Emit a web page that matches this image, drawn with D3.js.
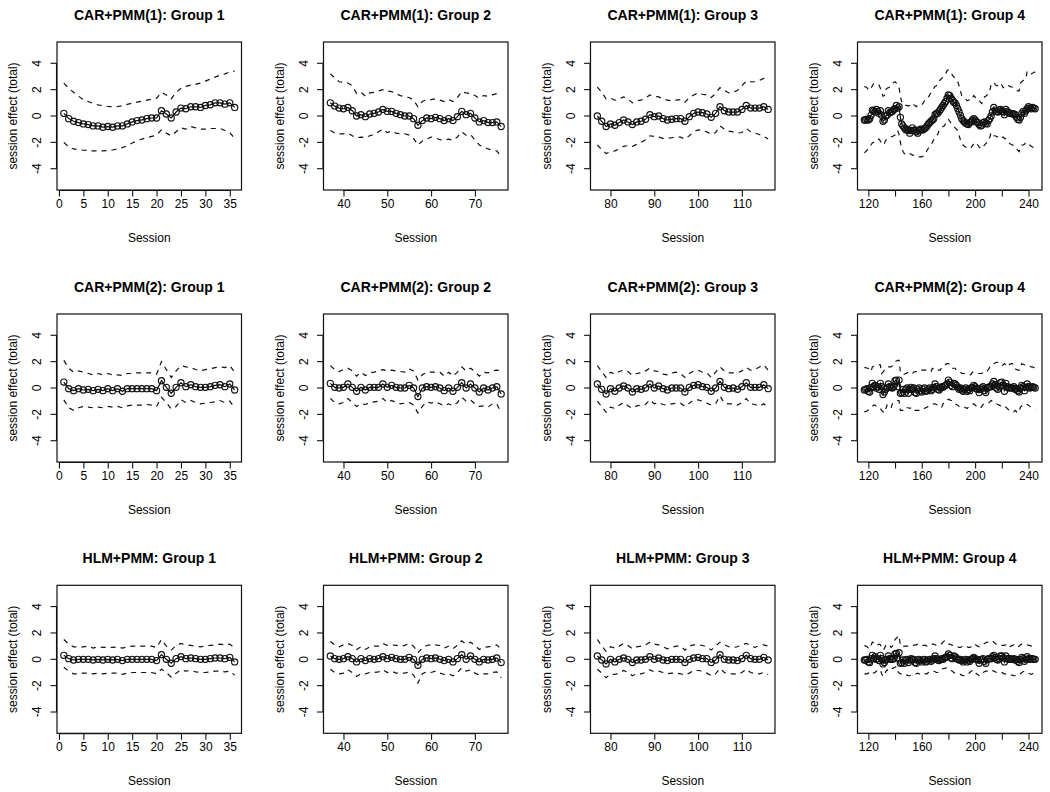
<!DOCTYPE html>
<html><head><meta charset="utf-8">
<script src="https://cdn.jsdelivr.net/npm/d3@7"></script>
<style>
html,body{margin:0;padding:0;background:#fff;}
svg text{font-family:"Liberation Sans",Arial,Helvetica,sans-serif;fill:#000;}
</style></head>
<body>
<svg id="chart" width="1050" height="792"></svg>
<script>
// ---------- labels ----------
const modelNames = ["CAR+PMM(1)", "CAR+PMM(2)", "HLM+PMM"];
const groupNames = ["Group 1", "Group 2", "Group 3", "Group 4"];
const groupFirstSession = [1, 37, 77, 117];
const yTicks = [-4, -2, 0, 2, 4];
const yLimits = [-5.2, 5.2];
const xTicksG1 = [0, 5, 10, 15, 20, 25, 30, 35];
const xTicksG2 = [40, 50, 60, 70];
const xTicksG3 = [80, 90, 100, 110];
const xTicksG4 = [120, 140, 160, 180, 200, 220, 240];
const xLabelsG4 = [120, 160, 200, 240];
const xTitle = "Session";
const yTitle = "session effect (total)";

// ---------- CAR+PMM(1) ----------
const car1_g1_est = [0.2,-0.2,-0.4,-0.5,-0.6,-0.65,-0.75,-0.75,-0.85,-0.8, -0.85,-0.75,-0.75,-0.6,-0.45,-0.35,-0.3,-0.2,-0.15,-0.15, 0.4,0.15,-0.15,0.3,0.6,0.55,0.7,0.7,0.65,0.8, 0.85,1.0,1.0,0.9,1.0,0.65];
const car1_g1_upr = [2.5,2.1,1.8,1.5,1.25,1.1,0.95,0.85,0.78,0.72, 0.7,0.72,0.78,0.88,0.98,1.05,1.12,1.2,1.28,1.35, 1.8,1.6,1.3,1.8,2.1,2.25,2.35,2.4,2.5,2.65, 2.8,2.95,3.1,3.2,3.35,3.4];
const car1_g1_lwr = [-2.0,-2.35,-2.5,-2.55,-2.6,-2.62,-2.65,-2.65,-2.65,-2.62, -2.58,-2.5,-2.4,-2.25,-2.05,-1.9,-1.75,-1.65,-1.55,-1.45, -1.05,-1.3,-1.5,-1.2,-0.9,-1.0,-0.8,-0.9,-1.0,-1.0, -0.95,-0.95,-0.95,-1.1,-1.25,-1.7];

const car1_g2_est = [1.0,0.75,0.6,0.55,0.65,0.4,0.0,0.1,-0.05,0.15, 0.2,0.3,0.5,0.35,0.35,0.2,0.1,0.0,0.0,-0.2, -0.7,-0.35,-0.15,-0.2,-0.1,-0.2,-0.35,-0.2,-0.35,-0.05, 0.35,0.1,0.2,-0.15,-0.45,-0.35,-0.5,-0.5,-0.45,-0.8];
const car1_g2_upr = [3.2,2.9,2.6,2.55,2.5,2.3,1.7,1.8,1.5,1.75, 1.8,1.9,2.0,1.9,1.85,1.7,1.55,1.45,1.4,1.2, 0.7,1.1,1.25,1.25,1.3,1.2,1.1,1.25,1.1,1.4, 1.85,1.75,1.7,1.55,1.35,1.55,1.5,1.6,1.7,1.7];
const car1_g2_lwr = [-1.1,-1.3,-1.35,-1.35,-1.3,-1.5,-1.65,-1.6,-1.65,-1.5, -1.4,-1.2,-1.0,-1.25,-1.15,-1.3,-1.35,-1.35,-1.45,-1.7, -2.2,-1.9,-1.75,-1.6,-1.65,-1.8,-1.85,-1.75,-1.85,-1.6, -1.2,-1.45,-1.4,-1.8,-2.2,-2.35,-2.5,-2.6,-2.65,-3.1];

const car1_g3_est = [0.0,-0.4,-0.8,-0.6,-0.7,-0.5,-0.3,-0.45,-0.65,-0.45, -0.4,-0.25,0.1,-0.05,0.0,-0.2,-0.3,-0.25,-0.2,-0.2, -0.4,-0.05,0.2,0.3,0.25,0.15,-0.1,0.2,0.7,0.4, 0.3,0.3,0.3,0.5,0.8,0.6,0.6,0.6,0.7,0.5];
const car1_g3_upr = [2.2,1.8,1.3,1.35,1.2,1.3,1.45,1.3,1.0,1.15, 1.2,1.35,1.6,1.5,1.45,1.3,1.2,1.15,1.2,1.25, 1.05,1.4,1.6,1.75,1.65,1.6,1.4,1.7,2.15,1.95, 1.75,1.8,1.95,2.3,2.65,2.6,2.6,2.7,2.85,2.9];
const car1_g3_lwr = [-2.2,-2.55,-2.85,-2.7,-2.65,-2.5,-2.3,-2.25,-2.3,-2.15, -2.0,-1.8,-1.5,-1.55,-1.6,-1.7,-1.7,-1.65,-1.6,-1.6, -1.75,-1.5,-1.2,-1.05,-1.1,-1.2,-1.4,-1.25,-0.75,-1.0, -1.15,-1.2,-1.3,-1.25,-0.95,-1.2,-1.3,-1.4,-1.55,-1.75];

const car1_g4_est = [-0.3,-0.3,-0.25,-0.3,-0.2,0.05,0.45,0.4,0.3,0.5,
 0.35,0.2,0.4,0.05,-0.4,-0.3,0.0,0.05,0.4,0.25,
 0.3,0.35,0.5,0.55,0.8,0.6,0.7,-0.1,-0.6,-0.75,
 -0.9,-1.05,-1.0,-1.1,-1.3,-1.1,-0.9,-1.1,-1.05,-1.2,
 -1.3,-1.1,-1.0,-1.05,-1.05,-0.95,-0.9,-0.75,-0.6,-0.5,
 -0.4,-0.3,-0.2,0.1,0.2,0.2,0.35,0.5,0.65,0.8,
 0.95,1.1,1.35,1.6,1.55,1.35,1.2,1.05,1.0,0.8,
 0.55,0.3,0.05,-0.2,-0.35,-0.45,-0.55,-0.6,-0.65,-0.5,
 -0.45,-0.3,-0.2,-0.3,-0.45,-0.5,-0.65,-0.75,-0.7,-0.5,
 -0.45,-0.55,-0.6,-0.35,-0.2,0.0,0.3,0.65,0.45,0.35,
 0.3,0.45,0.5,0.35,0.3,0.1,0.5,0.35,0.25,0.2,
 0.2,0.15,0.15,0.1,-0.1,-0.25,-0.3,-0.1,0.2,0.35,
 0.2,0.4,0.55,0.7,0.6,0.55,0.65,0.6,0.55];
const car1_g4_upr = [2.25,2.2,2.15,2.0,1.95,2.1,2.3,2.45,2.5,2.45,
 2.4,2.35,2.1,1.85,1.5,1.55,2.0,2.1,2.15,2.2,
 2.4,2.45,2.55,2.6,2.5,2.35,2.2,1.45,1.1,0.85,
 0.85,0.8,0.8,0.75,0.8,0.7,0.75,0.85,0.8,0.7,
 0.8,0.85,0.8,0.85,0.95,1.15,1.2,1.3,1.45,1.6,
 1.8,2.0,2.1,2.25,2.3,2.45,2.65,2.75,2.85,2.95,
 3.0,3.2,3.45,3.5,3.4,3.3,3.1,2.95,2.9,2.7,
 2.6,2.3,1.9,1.55,1.45,1.35,1.3,1.15,1.2,1.25,
 1.2,1.35,1.55,1.45,1.3,1.2,1.2,1.05,0.95,1.15,
 1.45,1.5,1.6,1.7,1.9,2.4,2.45,2.55,2.4,2.3,
 2.3,2.4,2.5,2.35,2.15,2.2,2.25,2.2,2.3,2.25,
 2.2,2.2,2.1,2.05,1.95,1.9,1.9,2.5,2.6,2.7,
 2.75,2.8,3.4,3.35,3.3,3.2,3.25,3.3,3.35];
const car1_g4_lwr = [-2.8,-2.7,-2.6,-2.4,-2.3,-2.2,-2.05,-2.0,-1.85,-1.85,
 -1.8,-1.75,-1.9,-2.1,-2.2,-2.1,-1.85,-1.8,-1.75,-1.7,
 -1.6,-1.55,-1.5,-1.45,-1.3,-1.1,-1.4,-2.0,-2.45,-2.7,
 -2.85,-2.95,-2.9,-2.85,-2.85,-2.9,-2.95,-3.0,-3.05,-3.1,
 -3.1,-3.1,-3.1,-3.1,-3.05,-3.0,-2.85,-2.6,-2.45,-2.3,
 -2.15,-2.0,-1.8,-1.6,-1.5,-1.4,-1.1,-1.0,-0.9,-0.8,
 -0.75,-0.55,-0.3,-0.25,-0.4,-0.55,-0.65,-0.8,-0.9,-1.0,
 -1.1,-1.5,-1.8,-2.1,-2.2,-2.3,-2.35,-2.45,-2.5,-2.45,
 -2.4,-2.25,-2.1,-2.0,-2.05,-2.2,-2.35,-2.45,-2.5,-2.4,
 -2.2,-2.1,-2.0,-1.9,-1.6,-1.25,-1.35,-1.5,-1.5,-1.55,
 -1.6,-1.7,-1.75,-1.65,-1.6,-1.7,-1.75,-1.85,-2.0,-2.1,
 -2.15,-2.2,-2.3,-2.35,-2.5,-2.6,-2.7,-2.4,-2.2,-2.2,
 -2.15,-2.0,-2.05,-2.1,-2.2,-2.3,-2.35,-2.4,-2.45];

// ---------- CAR+PMM(2) ----------
const car2_g1_est = [0.45,-0.05,-0.2,-0.05,-0.15,-0.1,-0.2,-0.1,-0.2,-0.05, -0.2,-0.05,-0.25,-0.05,-0.05,-0.05,-0.05,-0.05,-0.05,-0.2, 0.55,0.05,-0.4,0.05,0.4,0.1,0.25,0.1,0.05,0.05, 0.1,0.2,0.25,0.1,0.3,-0.15];
const car2_g1_upr = [2.1,1.5,1.2,1.3,1.2,1.1,1.0,1.1,1.0,1.1, 1.0,1.0,0.95,1.1,1.1,1.15,1.15,1.15,1.15,1.05, 2.0,1.4,0.8,1.3,1.7,1.6,1.55,1.4,1.3,1.4, 1.45,1.55,1.6,1.55,1.7,1.2];
const car2_g1_lwr = [-0.9,-1.5,-1.7,-1.5,-1.4,-1.45,-1.5,-1.45,-1.5,-1.4, -1.45,-1.4,-1.5,-1.35,-1.3,-1.3,-1.3,-1.25,-1.3,-1.4, -0.7,-1.1,-1.6,-1.4,-0.9,-1.1,-0.95,-1.1,-1.2,-1.15, -1.1,-1.05,-0.95,-1.1,-1.0,-1.5];

const car2_g2_est = [0.35,0.05,0.0,0.05,0.3,0.05,-0.25,0.05,-0.15,0.05, 0.05,0.05,0.3,0.05,0.2,0.05,0.0,0.0,0.2,0.0, -0.65,0.0,0.1,0.05,0.1,0.0,-0.2,0.0,-0.25,0.05, 0.4,0.0,0.3,0.0,-0.3,0.0,-0.15,0.0,0.1,-0.45];
const car2_g2_upr = [1.7,1.4,1.25,1.4,1.5,1.3,0.9,1.2,0.95,1.15, 1.2,1.3,1.4,1.3,1.35,1.3,1.25,1.2,1.45,1.3, 0.6,1.0,1.2,1.2,1.2,1.2,0.9,1.2,0.9,1.2, 1.6,1.3,1.5,1.25,0.9,1.2,1.15,1.3,1.35,1.3];
const car2_g2_lwr = [-0.8,-1.1,-1.2,-1.1,-0.8,-1.1,-1.4,-1.2,-1.25,-1.1, -1.05,-1.0,-0.8,-1.1,-0.95,-1.1,-1.2,-1.15,-1.1,-1.3, -1.9,-1.4,-1.05,-1.15,-1.05,-1.2,-1.35,-1.2,-1.35,-1.1, -0.7,-1.0,-0.9,-1.2,-1.4,-1.35,-1.45,-1.2,-1.2,-1.9];

const car2_g3_est = [0.3,-0.1,-0.45,-0.05,-0.25,0.0,0.15,0.0,-0.3,-0.05, -0.1,0.0,0.3,0.0,0.15,-0.05,-0.15,0.0,0.0,0.0, -0.3,0.05,0.2,0.25,0.1,0.05,-0.25,0.0,0.5,0.05, -0.05,0.0,-0.1,0.1,0.4,0.05,0.05,0.05,0.25,-0.05];
const car2_g3_upr = [1.7,1.25,0.8,1.2,1.05,1.25,1.35,1.25,0.95,1.1, 1.15,1.3,1.5,1.3,1.25,1.05,1.0,1.15,1.2,1.1, 0.8,1.1,1.3,1.35,1.2,1.15,0.8,1.2,1.6,1.3, 1.15,1.15,1.15,1.3,1.55,1.35,1.4,1.6,1.75,1.35];
const car2_g3_lwr = [-1.0,-1.4,-1.85,-1.45,-1.55,-1.3,-1.1,-1.35,-1.55,-1.35, -1.3,-1.25,-0.9,-1.2,-1.1,-1.25,-1.3,-1.2,-1.15,-1.15, -1.4,-1.15,-0.9,-0.9,-1.0,-1.15,-1.3,-1.2,-0.6,-1.15, -1.2,-1.2,-1.3,-1.1,-0.8,-1.2,-1.25,-1.4,-1.2,-1.5];

const car2_g4_est = [-0.15,-0.1,-0.05,-0.25,-0.3,0.05,0.35,0.1,0.2,0.0,
 0.1,-0.1,0.35,0.1,-0.5,-0.3,-0.1,0.0,0.3,0.1,
 0.05,0.0,0.1,0.55,0.6,0.1,0.6,-0.4,-0.35,-0.1,
 -0.4,-0.1,0.0,-0.4,-0.1,0.05,-0.1,0.0,-0.35,-0.4,
 -0.1,0.0,-0.2,-0.3,-0.1,0.0,-0.25,-0.2,-0.1,0.0,
 -0.2,-0.1,0.05,0.3,0.1,-0.1,-0.15,0.0,0.1,0.05,
 0.15,0.2,0.3,0.6,0.45,0.2,0.1,0.35,0.3,0.2,
 0.05,-0.1,0.0,-0.15,-0.25,-0.1,0.0,-0.25,-0.1,-0.2,
 0.0,0.05,0.2,0.1,-0.05,-0.1,-0.35,-0.1,0.0,0.1,
 -0.2,-0.35,0.0,0.05,0.1,0.1,0.3,0.5,0.25,0.0,
 -0.1,0.1,0.4,0.45,0.2,-0.25,0.35,0.1,0.0,0.05,
 0.0,0.0,0.1,-0.1,-0.05,-0.2,-0.3,0.0,0.2,0.1,
 -0.2,0.05,0.3,0.1,0.0,0.05,0.1,0.05,0.0];
const car2_g4_upr = [1.55,1.55,1.5,1.5,1.4,1.25,1.6,1.65,1.7,1.7,
 1.75,1.75,1.75,1.1,1.2,1.35,1.5,1.6,1.6,1.6,
 1.6,1.7,1.85,2.0,2.05,2.1,2.1,1.25,1.1,1.0,
 1.05,1.1,1.15,1.2,1.2,1.1,1.1,1.2,1.25,1.25,
 1.25,1.25,1.25,1.35,1.35,1.35,1.35,1.35,1.3,1.25,
 1.25,1.5,1.45,1.35,1.3,1.35,1.35,1.35,1.6,1.65,
 1.7,1.8,1.85,1.85,1.8,1.6,1.5,1.5,1.5,1.35,
 1.25,1.25,1.2,1.1,1.1,1.1,1.05,1.0,1.0,1.0,
 1.05,1.2,1.2,1.2,1.15,1.1,1.1,1.1,1.1,1.2,
 1.3,1.3,1.3,1.4,1.6,1.75,1.8,1.85,1.9,1.95,
 1.95,1.85,1.75,1.7,1.75,1.85,1.75,1.6,1.7,1.8,
 1.85,1.85,1.7,1.45,1.4,1.35,1.35,1.6,1.85,1.8,
 1.75,1.75,1.7,1.7,1.65,1.6,1.6,1.55,1.5];
const car2_g4_lwr = [-1.8,-1.8,-1.75,-1.65,-1.55,-1.45,-1.4,-1.3,-1.3,-1.4,
 -1.45,-1.45,-1.55,-1.7,-1.8,-1.9,-1.6,-1.3,-1.4,-1.5,
 -1.55,-1.2,-1.15,-1.1,-1.0,-0.95,-0.95,-1.7,-1.7,-1.7,
 -1.65,-1.45,-1.5,-1.5,-1.55,-1.5,-1.45,-1.55,-1.7,-1.7,
 -1.7,-1.7,-1.7,-1.6,-1.55,-1.55,-1.5,-1.45,-1.4,-1.35,
 -1.3,-1.25,-1.2,-1.2,-1.25,-1.3,-1.45,-1.45,-1.45,-1.2,
 -1.05,-0.95,-0.9,-0.85,-0.9,-0.95,-0.95,-1.05,-1.2,-1.25,
 -1.3,-1.4,-1.45,-1.45,-1.45,-1.45,-1.5,-1.55,-1.45,-1.35,
 -1.3,-1.25,-1.2,-1.3,-1.4,-1.45,-1.5,-1.55,-1.4,-1.25,
 -1.2,-1.2,-1.2,-1.15,-1.05,-0.95,-1.0,-1.1,-1.15,-1.2,
 -1.25,-1.3,-1.35,-1.3,-1.35,-1.45,-1.45,-1.55,-1.65,-1.75,
 -1.8,-1.8,-1.8,-1.7,-1.8,-1.9,-1.75,-1.45,-1.35,-1.3,
 -1.3,-1.2,-1.25,-1.3,-1.4,-1.5,-1.55,-1.55,-1.6];

// ---------- HLM+PMM ----------
const hlm_g1_est = [0.3,0.05,-0.05,0.0,0.0,0.0,-0.05,0.0,-0.05,0.0, -0.05,0.0,-0.1,0.0,0.0,0.0,0.0,0.0,0.0,-0.1, 0.35,0.0,-0.3,0.05,0.2,0.05,0.1,0.05,0.0,0.0, 0.05,0.1,0.1,0.05,0.15,-0.2];
const hlm_g1_upr = [1.5,1.15,0.95,0.95,0.95,1.0,0.85,0.95,0.9,0.9, 0.9,0.95,0.85,0.95,1.0,1.0,1.0,1.0,1.0,0.9, 1.5,1.0,0.7,1.05,1.2,1.1,1.05,1.0,0.95,1.0, 1.05,1.1,1.15,1.1,1.15,0.85];
const hlm_g1_lwr = [-0.6,-0.9,-1.1,-1.1,-1.05,-1.05,-1.1,-1.05,-1.1,-1.05, -1.05,-1.05,-1.15,-1.05,-1.0,-1.0,-1.0,-1.0,-1.0,-1.1, -0.75,-1.0,-1.35,-1.05,-0.8,-0.9,-0.85,-0.95,-1.0,-1.0, -0.95,-0.9,-0.9,-0.95,-0.9,-1.2];

const hlm_g2_est = [0.25,0.05,0.0,0.05,0.2,0.05,-0.2,0.05,-0.1,0.05, 0.0,0.05,0.2,0.05,0.15,0.05,0.0,0.0,0.15,0.0, -0.45,0.0,0.1,0.05,0.1,0.0,-0.1,0.0,-0.2,0.05, 0.35,0.0,0.25,0.0,-0.2,0.0,-0.05,0.0,0.1,-0.25];
const hlm_g2_upr = [1.35,1.1,0.95,1.1,1.2,1.05,0.75,0.95,0.75,0.95, 1.0,1.0,1.2,1.05,1.1,1.05,1.0,1.05,1.2,1.0, 0.5,0.85,1.05,1.1,1.1,1.05,0.85,1.0,0.8,1.05, 1.4,1.15,1.3,1.05,0.75,0.9,0.95,1.0,1.1,0.75];
const hlm_g2_lwr = [-0.75,-1.0,-1.1,-1.05,-0.8,-1.0,-1.3,-1.1,-1.1,-1.0, -1.0,-0.95,-0.8,-1.0,-0.9,-1.05,-1.05,-1.05,-0.95,-1.2, -1.8,-1.1,-0.95,-1.0,-0.9,-1.05,-1.15,-1.1,-1.25,-1.0, -0.65,-0.9,-0.8,-1.05,-1.2,-1.1,-1.1,-1.0,-0.95,-1.4];

const hlm_g3_est = [0.25,-0.05,-0.35,0.0,-0.2,0.0,0.1,0.0,-0.25,-0.05, -0.05,0.0,0.2,0.0,0.1,-0.05,-0.1,0.0,0.0,0.0, -0.25,0.0,0.1,0.15,0.05,0.05,-0.25,-0.05,0.35,0.0, -0.05,-0.05,-0.1,0.05,0.3,0.05,0.0,0.0,0.15,-0.05];
const hlm_g3_upr = [1.5,1.0,0.6,0.95,0.85,1.0,1.2,1.05,0.8,0.95, 1.0,1.1,1.3,1.15,1.1,0.95,0.8,0.9,1.0,1.0, 0.7,1.0,1.1,1.1,1.05,0.95,0.7,1.0,1.3,1.1, 0.95,0.9,0.95,1.1,1.2,1.05,0.9,1.05,1.1,1.0];
const hlm_g3_lwr = [-0.75,-1.05,-1.4,-1.15,-1.15,-1.05,-0.85,-1.0,-1.25,-1.1, -1.1,-1.0,-0.8,-0.95,-0.9,-1.0,-1.1,-1.05,-1.05,-1.1, -1.2,-1.05,-0.85,-0.85,-0.9,-1.05,-1.25,-1.1,-0.7,-1.0, -1.1,-1.1,-1.15,-1.0,-0.75,-1.0,-1.1,-1.1,-1.0,-1.15];

const hlm_g4_est = [-0.05,-0.05,0.0,-0.2,-0.25,0.05,0.3,0.05,0.2,0.0,
 0.05,-0.1,0.3,0.05,-0.35,-0.25,-0.05,0.0,0.25,0.05,
 0.0,0.0,0.05,0.4,0.45,0.1,0.5,-0.3,-0.25,-0.05,
 -0.3,-0.05,0.0,-0.25,-0.05,0.05,-0.05,0.0,-0.25,-0.3,
 -0.05,0.0,-0.1,-0.2,-0.05,0.0,-0.2,-0.15,-0.05,0.0,
 -0.15,-0.05,0.05,0.25,0.05,-0.05,-0.1,0.0,0.05,0.0,
 0.1,0.15,0.2,0.4,0.3,0.1,0.05,0.25,0.2,0.1,
 0.0,-0.05,0.0,-0.1,-0.2,-0.05,0.0,-0.2,-0.05,-0.15,
 0.0,0.05,0.15,0.05,0.0,-0.05,-0.3,-0.05,0.0,0.05,
 -0.15,-0.3,0.0,0.05,0.05,0.05,0.2,0.3,0.15,0.0,
 -0.05,0.05,0.25,0.25,0.1,-0.2,0.25,0.05,0.0,0.05,
 0.0,0.0,0.05,-0.05,0.0,-0.15,-0.25,0.0,0.15,0.05,
 -0.15,0.0,0.2,0.05,0.0,0.05,0.05,0.0,0.0];
const hlm_g4_upr = [1.05,1.0,0.95,0.85,0.8,1.05,1.3,1.25,1.1,1.05,
 1.1,1.15,1.1,0.9,0.7,0.8,1.05,1.1,1.15,1.1,
 0.9,1.0,1.15,1.5,1.6,1.7,1.8,1.05,1.0,0.95,
 1.0,1.0,1.0,1.0,1.05,1.05,1.05,1.05,1.1,1.1,
 1.15,1.15,1.1,1.05,1.05,1.05,1.05,1.0,1.0,1.0,
 1.1,1.15,1.15,1.1,1.05,1.05,1.05,1.1,1.2,1.3,
 1.4,1.3,1.2,1.15,1.15,1.1,1.05,1.05,1.05,1.0,
 0.95,0.9,0.9,0.95,1.0,1.05,1.0,0.95,0.9,0.9,
 0.95,1.05,1.15,1.15,1.05,1.0,0.95,1.0,1.05,1.1,
 1.2,1.25,1.3,1.3,1.35,1.4,1.4,1.3,1.2,1.15,
 1.1,1.05,1.05,1.05,1.05,1.05,1.1,1.15,1.0,0.95,
 1.0,1.05,1.1,1.15,1.0,0.95,1.0,1.1,1.15,1.15,
 1.15,1.15,1.1,1.05,1.05,1.0,0.95,0.95,1.0];
const hlm_g4_lwr = [-1.1,-1.1,-1.1,-1.05,-1.0,-0.9,-0.95,-1.05,-1.0,-0.9,
 -0.9,-0.85,-0.8,-1.1,-1.3,-1.25,-0.95,-0.8,-0.85,-0.9,
 -0.85,-0.7,-0.65,-0.6,-0.55,-0.9,-1.05,-1.1,-1.15,-1.15,
 -1.2,-1.15,-1.2,-1.25,-1.25,-1.2,-1.15,-1.15,-1.15,-1.1,
 -1.05,-1.1,-1.15,-1.1,-1.05,-1.05,-1.1,-1.1,-1.0,-0.95,
 -0.9,-0.9,-0.9,-0.95,-1.0,-1.0,-0.95,-0.85,-0.8,-0.7,
 -0.7,-0.65,-0.65,-0.7,-0.8,-0.85,-0.9,-1.0,-1.05,-1.1,
 -1.15,-1.15,-1.15,-1.2,-1.25,-1.25,-1.25,-1.2,-1.1,-1.0,
 -0.9,-0.85,-0.8,-0.95,-1.1,-1.15,-1.25,-1.25,-1.15,-1.0,
 -0.95,-0.9,-0.9,-0.9,-0.85,-0.8,-0.85,-0.9,-0.95,-1.0,
 -1.0,-1.05,-1.05,-1.0,-1.05,-1.1,-1.1,-1.15,-1.15,-1.2,
 -1.2,-1.2,-1.25,-1.25,-1.25,-1.25,-1.2,-1.1,-1.0,-0.95,
 -0.9,-0.95,-1.0,-1.05,-1.1,-1.15,-1.1,-1.0,-0.95];

// ---------- assemble panels ----------
const estimates = [
  [car1_g1_est, car1_g2_est, car1_g3_est, car1_g4_est],
  [car2_g1_est, car2_g2_est, car2_g3_est, car2_g4_est],
  [hlm_g1_est, hlm_g2_est, hlm_g3_est, hlm_g4_est]];
const uppers = [
  [car1_g1_upr, car1_g2_upr, car1_g3_upr, car1_g4_upr],
  [car2_g1_upr, car2_g2_upr, car2_g3_upr, car2_g4_upr],
  [hlm_g1_upr, hlm_g2_upr, hlm_g3_upr, hlm_g4_upr]];
const lowers = [
  [car1_g1_lwr, car1_g2_lwr, car1_g3_lwr, car1_g4_lwr],
  [car2_g1_lwr, car2_g2_lwr, car2_g3_lwr, car2_g4_lwr],
  [hlm_g1_lwr, hlm_g2_lwr, hlm_g3_lwr, hlm_g4_lwr]];
const xTickSets = [xTicksG1, xTicksG2, xTicksG3, xTicksG4];
const xLabelSets = [xTicksG1, xTicksG2, xTicksG3, xLabelsG4];

// layout
const colLeft = [57, 323.5, 590.5, 857.5];
const rowTop = [42, 314, 585.3];
const plotW = 184.5, plotH = 148;
const ink = "#111";

const svg = d3.select("#chart");

function expand(a, b) { const d = (b - a) * 0.04; return [a - d, b + d]; }

for (let m = 0; m < 3; m++) {
  for (let g = 0; g < 4; g++) {
    const est = estimates[m][g], upr = uppers[m][g], lwr = lowers[m][g];
    const first = groupFirstSession[g];
    const sessions = est.map((_, i) => first + i);
    const L = colLeft[g], T = rowTop[m];
    const x = d3.scaleLinear().domain(expand(sessions[0], sessions[sessions.length - 1])).range([L, L + plotW]);
    const y = d3.scaleLinear().domain(expand(yLimits[0], yLimits[1])).range([T + plotH, T]);
    const p = svg.append("g");

    // title
    p.append("text").attr("x", L + plotW / 2).attr("y", T - 22)
      .attr("text-anchor", "middle").attr("font-weight", "bold").attr("font-size", 14)
      .text(modelNames[m] + ": " + groupNames[g]);

    // x axis
    const xAxis = d3.axisBottom(x).tickValues(xTickSets[g]).tickSize(6.5).tickPadding(3)
      .tickFormat(v => xLabelSets[g].includes(v) ? String(v) : "");
    const gx = p.append("g").attr("transform", `translate(0,${T + plotH})`).call(xAxis);
    gx.select(".domain").attr("d", `M${x(xTickSets[g][0])},0.5H${x(xTickSets[g][xTickSets[g].length - 1])}`);
    gx.selectAll("text").attr("font-size", 12).attr("font-family", "Liberation Sans, Arial, sans-serif").attr("fill", ink);
    gx.selectAll("line,path").attr("stroke", ink).attr("stroke-width", 1.1);

    // y axis
    const yAxis = d3.axisLeft(y).tickValues(yTicks).tickSize(6.5);
    const gy = p.append("g").attr("transform", `translate(${L},0)`).call(yAxis);
    gy.select(".domain").attr("d", `M-0.5,${y(yTicks[0])}V${y(yTicks[yTicks.length - 1])}`);
    gy.selectAll("line,path").attr("stroke", ink).attr("stroke-width", 1.1);
    gy.selectAll(".tick").attr("transform", null);
    gy.selectAll(".tick line").attr("transform", d => `translate(0,${y(d)})`);
    gy.selectAll(".tick text")
      .attr("font-size", 12).attr("font-family", "Liberation Sans, Arial, sans-serif").attr("fill", ink)
      .attr("x", null).attr("y", null).attr("dy", null).attr("text-anchor", "middle")
      .attr("transform", d => `translate(-16,${y(d)}) rotate(-90)`)
      .text(d => d < 0 ? "-" + Math.abs(d) : String(d));

    // axis titles
    p.append("text").attr("x", L + plotW / 2).attr("y", T + plotH + 52)
      .attr("text-anchor", "middle").attr("font-size", 12).attr("fill", ink).text(xTitle);
    p.append("text").attr("transform", `translate(${L - 40},${T + plotH / 2}) rotate(-90)`)
      .attr("text-anchor", "middle").attr("font-size", 12).attr("fill", ink).text(yTitle);

    // clip
    const clipId = `clip${m}${g}`;
    svg.append("clipPath").attr("id", clipId).append("rect")
      .attr("x", L).attr("y", T).attr("width", plotW).attr("height", plotH);
    const inner = p.append("g").attr("clip-path", `url(#${clipId})`);

    const line = d3.line().x((d, i) => x(sessions[i])).y(d => y(d));
    inner.append("path").attr("d", line(upr)).attr("fill", "none").attr("stroke", ink)
      .attr("stroke-width", 1.2).attr("stroke-dasharray", "5,5");
    inner.append("path").attr("d", line(lwr)).attr("fill", "none").attr("stroke", ink)
      .attr("stroke-width", 1.2).attr("stroke-dasharray", "5,5");
    inner.append("path").attr("d", line(est)).attr("fill", "none").attr("stroke", ink).attr("stroke-width", 1.2);
    inner.selectAll("circle.pt").data(est).enter().append("circle").attr("class", "pt")
      .attr("cx", (d, i) => x(sessions[i])).attr("cy", d => y(d)).attr("r", 3.1)
      .attr("fill", "none").attr("stroke", ink).attr("stroke-width", 1.15);

    // box
    p.append("rect").attr("x", L).attr("y", T).attr("width", plotW).attr("height", plotH)
      .attr("fill", "none").attr("stroke", ink).attr("stroke-width", 1.2);
  }
}
</script>
</body></html>
